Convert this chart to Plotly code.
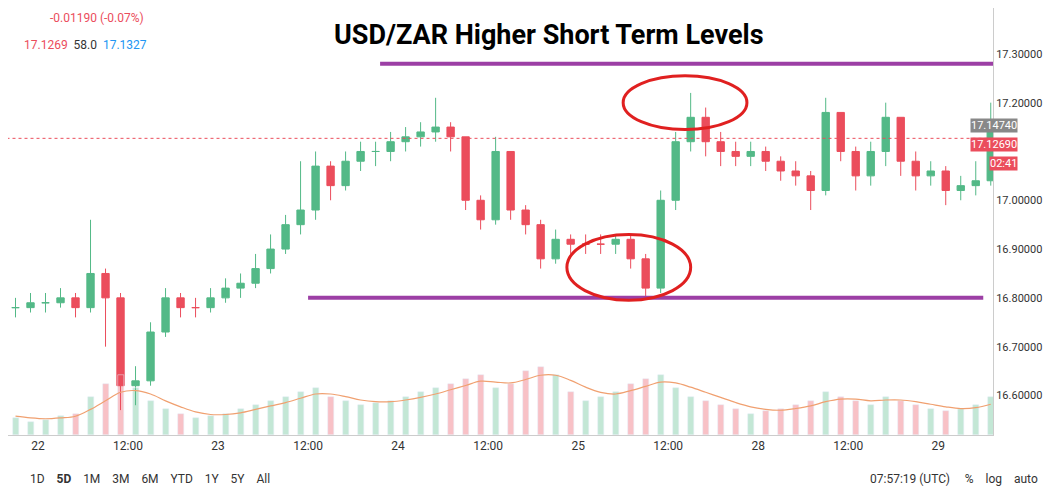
import plotly.graph_objects as go

# hour index (0 = 22nd 00:00, 24h per trading day, weekend removed)
hours = list(range(-3, 129, 2))
close = [16.78, 16.79, 16.79, 16.80, 16.78, 16.85, 16.80, 16.62, 16.63, 16.73,
         16.80, 16.78, 16.78, 16.80, 16.82, 16.83, 16.86, 16.90, 16.95, 16.98,
         17.07, 17.03, 17.08, 17.10, 17.10, 17.12, 17.13, 17.14, 17.15, 17.13,
         17.00, 16.96, 17.10, 16.98, 16.95, 16.88, 16.92, 16.91, 16.91, 16.91,
         16.92, 16.88, 16.82, 17.00, 17.12, 17.17, 17.12, 17.10, 17.09, 17.10,
         17.08, 17.06, 17.05, 17.02, 17.18, 17.10, 17.05, 17.10, 17.17, 17.08,
         17.05, 17.06, 17.02, 17.03, 17.04, 17.15]
high = [16.80, 16.81, 16.81, 16.82, 16.81, 16.96, 16.86, 16.81, 16.66, 16.75,
        16.82, 16.81, 16.80, 16.82, 16.84, 16.85, 16.89, 16.93, 16.97, 17.08,
        17.10, 17.08, 17.10, 17.12, 17.12, 17.14, 17.15, 17.16, 17.21, 17.16,
        17.13, 17.01, 17.13, 17.10, 16.99, 16.96, 16.94, 16.93, 16.93, 16.93,
        16.93, 16.93, 16.89, 17.02, 17.14, 17.22, 17.19, 17.14, 17.12, 17.12,
        17.11, 17.09, 17.08, 17.06, 17.21, 17.18, 17.11, 17.12, 17.20, 17.17,
        17.10, 17.08, 17.07, 17.05, 17.08, 17.20]
low = [16.76, 16.77, 16.77, 16.78, 16.76, 16.77, 16.70, 16.57, 16.58, 16.62,
       16.72, 16.76, 16.76, 16.77, 16.79, 16.80, 16.82, 16.85, 16.89, 16.93,
       16.96, 17.00, 17.02, 17.06, 17.07, 17.08, 17.10, 17.11, 17.12, 17.10,
       16.98, 16.94, 16.95, 16.96, 16.93, 16.86, 16.87, 16.89, 16.89, 16.89,
       16.89, 16.86, 16.80, 16.81, 16.98, 17.10, 17.09, 17.07, 17.07, 17.07,
       17.06, 17.04, 17.03, 16.98, 17.01, 17.08, 17.02, 17.03, 17.07, 17.05,
       17.02, 17.03, 16.99, 17.00, 17.01, 17.03]
volume = [20, 15, 18, 22, 25, 45, 60, 70, 55, 40, 30, 25, 20, 22, 25, 30, 35, 40, 45, 50,
          55, 45, 40, 35, 38, 40, 45, 50, 55, 60, 65, 70, 55, 60, 75, 80, 70, 50, 40, 45,
          50, 60, 65, 70, 55, 45, 40, 35, 30, 25, 28, 30, 35, 40, 50, 45, 40, 35, 45, 40,
          35, 30, 28, 30, 35, 45]
vol_avg = [22, 20, 19, 20, 22, 30, 40, 50, 52, 48, 40, 33, 27, 24, 24, 26, 30, 34, 38, 43,
           48, 48, 45, 41, 39, 39, 41, 44, 48, 53, 58, 63, 62, 61, 65, 70, 70, 64, 56, 50,
           48, 52, 57, 62, 61, 56, 50, 44, 38, 33, 30, 29, 31, 34, 39, 42, 42, 40, 41, 41,
           39, 36, 33, 31, 32, 36]
opn = [16.78] + close[:-1]

tick_hours = [0, 12, 24, 36, 48, 60, 72, 84, 96, 108, 120]
tick_text = ["22", "12:00", "23", "12:00", "24", "12:00", "25", "12:00", "28", "12:00", "29"]
# 17.1 is hidden behind the price boxes in the original
price_ticks = [16.6, 16.7, 16.8, 16.9, 17.0, 17.2, 17.3, 17.4]

up, down = "#53b987", "#eb4d5c"
vcol = ["rgba(83,185,135,0.35)" if c >= o else "rgba(235,77,92,0.35)" for o, c in zip(opn, close)]

fig = go.Figure()
fig.add_trace(go.Bar(x=hours, y=volume, marker_color=vcol, yaxis="y2", width=0.8))
fig.add_trace(go.Scatter(x=hours, y=vol_avg, mode="lines", line=dict(color="#f0a070", width=1.2),
                         yaxis="y2", line_shape="spline"))
fig.add_trace(go.Candlestick(x=hours, open=opn, high=high, low=low, close=close,
                             increasing=dict(line=dict(color=up, width=1), fillcolor=up),
                             decreasing=dict(line=dict(color=down, width=1), fillcolor=down),
                             whiskerwidth=0))

purple = "#9c3fa5"
fig.add_shape(type="line", x0=45.6, x1=127.5, y0=17.28, y1=17.28, line=dict(color=purple, width=4))
fig.add_shape(type="line", x0=36, x1=126, y0=16.80, y1=16.80, line=dict(color=purple, width=4))
fig.add_shape(type="circle", x0=78, x1=94.5, y0=17.145, y1=17.255, line=dict(color="#e02020", width=3))
fig.add_shape(type="circle", x0=70.5, x1=87, y0=16.795, y1=16.93, line=dict(color="#e02020", width=3))
fig.add_shape(type="line", x0=-5, x1=128, y0=17.1269, y1=17.1269,
              line=dict(color="#eb4d5c", width=1, dash="dot"))

fig.update_layout(
    width=1051, height=495, paper_bgcolor="white", plot_bgcolor="white",
    margin=dict(l=0, r=66, t=0, b=68, autoexpand=False), showlegend=False, bargap=0,
    font=dict(family="Roboto", color="#333", size=12),
    xaxis=dict(range=[-4, 127.3], tickvals=tick_hours, ticktext=tick_text, rangeslider_visible=False,
               showgrid=False, showline=True, linecolor="#ccc", ticks="", zeroline=False,
               automargin=False),
    yaxis=dict(side="right", range=[16.519, 17.394], tickvals=price_ticks,
               ticktext=[f"{v:.5f}" for v in price_ticks], showgrid=False, showline=True,
               linecolor="#ccc", ticks="", zeroline=False, tickfont=dict(size=11), automargin=False),
    yaxis2=dict(overlaying="y", range=[0, 500], visible=False),
)


def px(x, y):
    # screen pixels -> paper coords, calibrated on the rendered plot area
    return x / 993, 1 - (y - 17) / 410


def note(text, x, y, **kw):
    xp, yp = px(x, y)
    fig.add_annotation(text=text, x=xp, y=yp, xref="paper", yref="paper", showarrow=False, **kw)


note("<b>USD/ZAR Higher Short Term Levels</b>", 545, 26, font=dict(size=27, color="black"))
for txt, y, bg in [("17.14740", 130, "#888"), ("17.12690", 148, "#eb4d5c"), ("02:41", 166, "#eb4d5c")]:
    note(txt, 1018, y, bgcolor=bg, font=dict(color="white", size=11), yanchor="middle", borderpad=0)
note("<span style='color:#eb4d5c'>-0.01190 (-0.07%)</span>", 40, 18, xanchor="left", font=dict(size=12))
note("<span style='color:#eb4d5c'>17.1269</span>  58.0  <span style='color:#2196f3'>17.1327</span>",
     14, 44, xanchor="left", font=dict(size=12))
note("1D    <b>5D</b>    1M    3M    6M    YTD    1Y    5Y    All", 20, 478,
     xanchor="left", font=dict(size=12))
note("07:57:19 (UTC)     %    log    auto", 1040, 478, xanchor="right", font=dict(size=12))
fig.write_html("out.html")
